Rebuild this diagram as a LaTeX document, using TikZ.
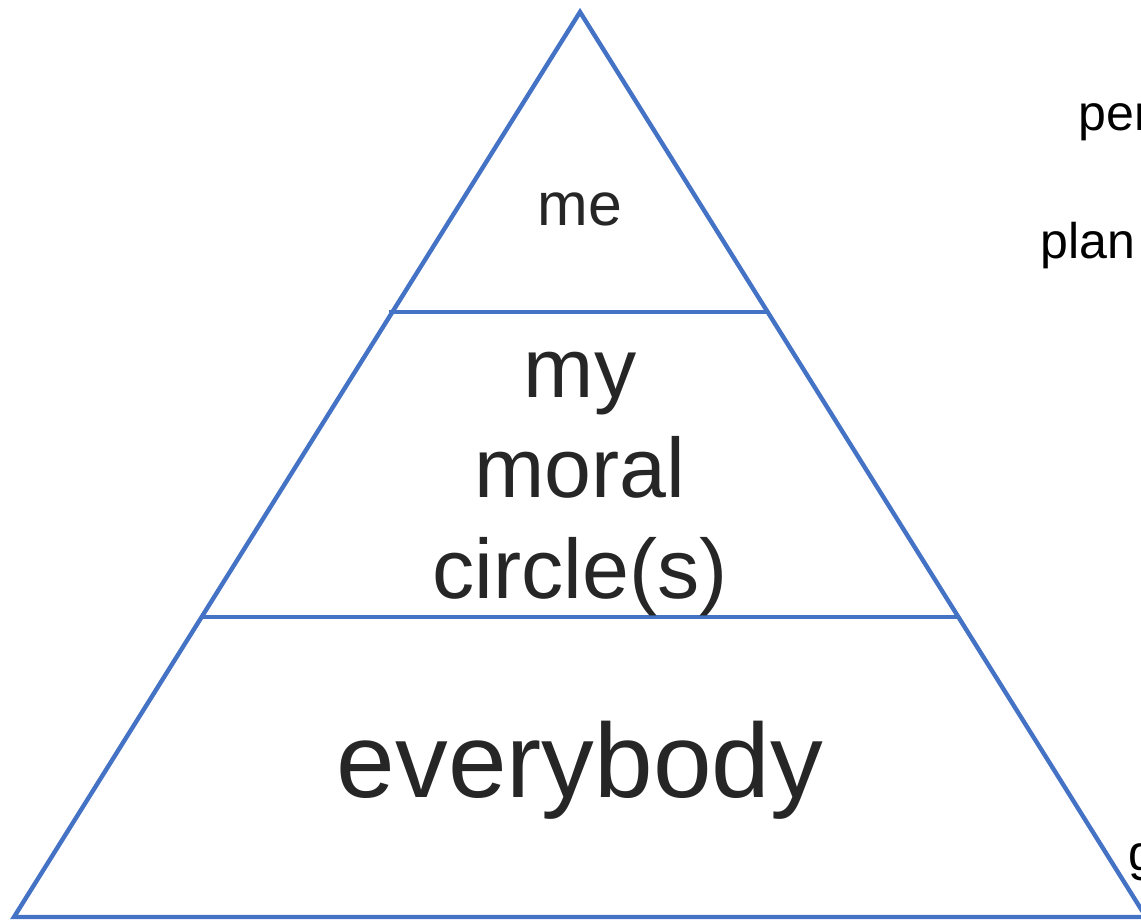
\documentclass[tikz,border=0pt]{standalone}
\usepackage{fontspec}
\setmainfont{Liberation Sans}
\definecolor{pyrblue}{HTML}{4472C4}
\definecolor{labelgray}{HTML}{262626}
\begin{document}
\begin{tikzpicture}[x=0.02cm,y=-0.02cm,
  edge/.style={draw=pyrblue,line width=2.5pt},
  lbl/.style={text=labelgray,inner sep=0pt,anchor=base},
  mid/.style={lbl,font=\fontsize{48}{57.8}\selectfont},
  side/.style={text=black,inner sep=0pt,anchor=base west,font=\fontsize{28.5}{34}\selectfont}]
\useasboundingbox (0,0) rectangle (1141,920);
\clip (0,0) rectangle (1141,920);
\coordinate (apex) at (580,12);
\coordinate (bl) at (14,917);
\coordinate (br) at (1146,917);
\coordinate (l1) at (389,312);
\coordinate (r1) at (768,312);
\coordinate (l2) at (200,617);
\coordinate (r2) at (960,617);
\draw[edge,line join=miter] (apex) -- (bl) -- (br) -- cycle;
\draw[edge] (l1) -- (r1);
\draw[edge] (l2) -- (r2);
\node[lbl,font=\fontsize{34.6}{40}\selectfont] (me) at (580,225) {me};
\node[mid] (my) at (580,397) {my};
\node[mid] (moral) at (580,497) {moral};
\node[mid] (circle) at (580,598) {circle(s)};
\node[lbl,font=\fontsize{60}{70}\selectfont] (every) at (580,797) {everybody};
\node[side] (per) at (1078,130) {per};
\node[side] (plan) at (1040,258) {plan};
\node[side] (g) at (1128,870) {g};
\end{tikzpicture}
\end{document}
